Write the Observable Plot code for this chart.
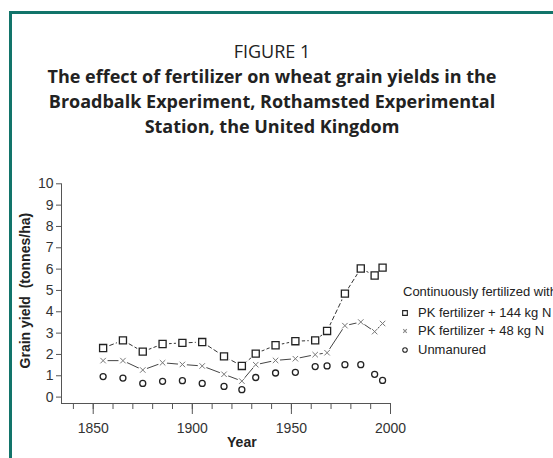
<!DOCTYPE html>
<html>
<head>
<meta charset="utf-8">
<script src="https://cdn.jsdelivr.net/npm/d3@7"></script>
<script src="https://cdn.jsdelivr.net/npm/@observablehq/plot@0.6"></script>
<style>
  html, body { margin: 0; padding: 0; background: #fff; }
  body { width: 553px; height: 458px; overflow: hidden; position: relative; }
  #frame { position: absolute; left: 9px; top: 11px; width: 620px; height: 520px;
           border-left: 3px solid #12746a; border-top: 3px solid #12746a; }
  #title { position: absolute; left: 10px; top: 39px; width: 524px; text-align: center;
           font-family: "Open Sans", sans-serif; font-size: 18px; line-height: 25px; color: #222; }
  #title .fig { font-weight: 400; }
  #title .main { font-weight: 700; }
  #chart { position: absolute; left: 0; top: 160px; }
  #legend { position: absolute; left: 403px; top: 283px; font-family: "Liberation Sans", Arial, sans-serif;
            font-size: 13px; color: #222; white-space: nowrap; }
  #legend .row { position: absolute; left: 0; height: 18px; line-height: 18px; }
  #legend svg { position: absolute; left: -4px; top: 3px; }
  #legend .lbl { position: absolute; left: 15px; }
</style>
</head>
<body>
<div id="frame"></div>
<div id="title">
  <div class="fig">FIGURE 1</div>
  <div class="main">The effect of fertilizer on wheat grain yields in the<br>Broadbalk Experiment, Rothamsted Experimental<br>Station, the United Kingdom</div>
</div>
<div id="chart"></div>
<div id="legend"></div>
<script>
// ---- data ----
const years     = [1855, 1865, 1875, 1885, 1895, 1905, 1916, 1925, 1932, 1942, 1952, 1962, 1968, 1977, 1985, 1992, 1996];
const pk144     = [2.30, 2.66, 2.13, 2.49, 2.54, 2.58, 1.91, 1.46, 2.04, 2.43, 2.62, 2.66, 3.10, 4.85, 6.03, 5.70, 6.07];
const pk48      = [1.71, 1.71, 1.27, 1.61, 1.53, 1.46, 1.07, 0.75, 1.52, 1.72, 1.80, 1.99, 2.08, 3.35, 3.52, 3.07, 3.45];
const unmanured = [0.96, 0.89, 0.64, 0.74, 0.77, 0.64, 0.50, 0.35, 0.92, 1.13, 1.16, 1.43, 1.46, 1.52, 1.52, 1.07, 0.78];

const yTicks  = [0, 1, 2, 3, 4, 5, 6, 7, 8, 9, 10];
const xMajor  = [1850, 1900, 1950, 2000];
const xMinor  = [1840, 1850, 1860, 1870, 1880, 1890, 1900, 1910, 1920, 1930, 1940, 1950, 1960, 1970, 1980, 1990, 2000];
const xDomain = [1834, 2000];
const yDomain = [-0.3, 10];

const legendTitle = "Continuously fertilized with";
const seriesNames = ["PK fertilizer + 144 kg N", "PK fertilizer + 48 kg N", "Unmanured"];
const yLabel = "Grain yield\u00a0 (tonnes/ha)";
const xLabel = "Year";

const rows = years.map((year, i) => ({year, pk144: pk144[i], pk48: pk48[i], un: unmanured[i]}));

const axisColor = "#555";
const textColor = "#333";
const font = "Liberation Sans, Arial, sans-serif";
const fs = 14;

const chart = Plot.plot({
  width: 553,
  height: 298,
  marginLeft: 61,
  marginRight: 163,
  marginTop: 23.3,
  marginBottom: 55,
  style: {fontFamily: font, fontSize: fs + "px", color: textColor, background: "transparent", overflow: "visible"},
  x: {domain: xDomain},
  y: {domain: yDomain},
  marks: [
    Plot.frame({anchor: "left", stroke: axisColor}),
    Plot.frame({anchor: "bottom", stroke: axisColor}),
    Plot.axisY({ticks: yTicks, tickSize: 5, tickPadding: 3, tickFormat: d => String(d), label: null, stroke: axisColor, fill: textColor, fontSize: fs}),
    Plot.axisX({ticks: xMinor, tickSize: 6, tickFormat: () => "", label: null, stroke: axisColor}),
    Plot.axisX({ticks: xMajor, tickSize: 11, tickPadding: 9, tickFormat: d => String(d), label: null, stroke: axisColor, fill: textColor, fontSize: fs}),
    Plot.text([yLabel], {text: d => d, frameAnchor: "left", textAnchor: "middle", rotate: -90, dx: -36, dy: -3, fontWeight: "bold", fill: "#222", fontSize: fs}),
    Plot.text([{t: xLabel, x: (xMajor[0] + xMajor[xMajor.length - 1]) / 2}], {x: "x", text: "t", frameAnchor: "bottom", dy: 43, fontWeight: "bold", fill: "#222", fontSize: fs}),
    Plot.line(rows, {x: "year", y: "pk144", stroke: "#333", strokeWidth: 1, strokeDasharray: "4,3"}),
    Plot.line(rows, {x: "year", y: "pk48", stroke: "#444", strokeWidth: 1}),
    Plot.dot(rows, {x: "year", y: "pk144", r: 6.5, fill: "white", stroke: "none"}),
    Plot.dot(rows, {x: "year", y: "pk48", r: 4.5, fill: "white", stroke: "none"}),
    Plot.dot(rows, {x: "year", y: "pk144", symbol: "square", r: 4, stroke: "#222", strokeWidth: 1.3, fill: "none"}),
    Plot.dot(rows, {x: "year", y: "pk48", symbol: "times", r: 2.6, stroke: "#777", strokeWidth: 1, fill: "none"}),
    Plot.dot(rows, {x: "year", y: "un", symbol: "circle", r: 3, stroke: "#222", strokeWidth: 1.3, fill: "none"})
  ]
});
document.getElementById("chart").appendChild(chart);
// force the chart's text styling
d3.select(chart).selectAll("text, g")
  .style("font-family", font);
d3.select(chart).selectAll("text").style("font-size", fs + "px");

// ---- legend ----
const legend = d3.select("#legend");
legend.append("div").attr("class", "row").style("top", "0px").style("left", "0px").text(legendTitle);
const symbols = ["square", "times", "circle"];
const symStroke = ["#222", "#888", "#222"];
const symSize = [22, 10, 16];
seriesNames.forEach((name, i) => {
  const row = legend.append("div").attr("class", "row").style("top", (20.5 + i * 18.7) + "px");
  const svg = row.append("svg").attr("width", 12).attr("height", 12);
  const sym = {square: d3.symbolSquare, times: d3.symbolTimes || d3.symbolX, circle: d3.symbolCircle}[symbols[i]];
  svg.append("path").attr("transform", "translate(6,6)")
    .attr("d", d3.symbol(sym, symSize[i])())
    .attr("fill", "none").attr("stroke", symStroke[i]).attr("stroke-width", 1.1);
  row.append("span").attr("class", "lbl").text(name);
});
</script>
</body>
</html>
